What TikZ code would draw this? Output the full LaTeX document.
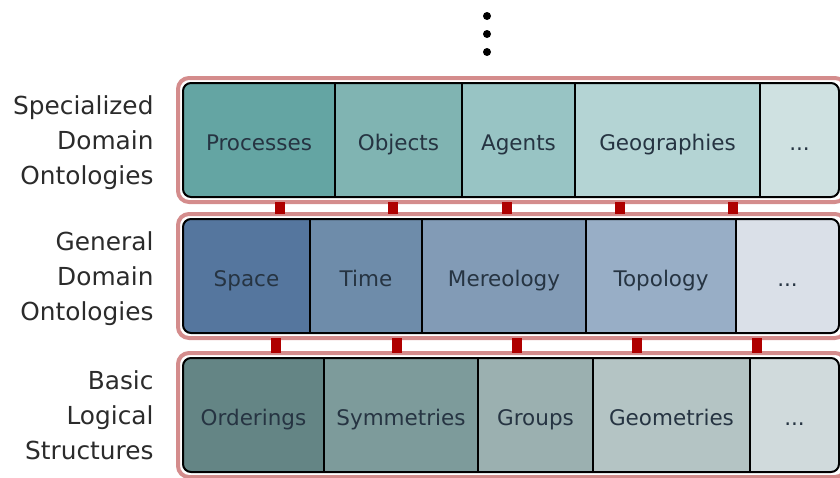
\documentclass[tikz,border=0pt]{standalone}
\usepackage{fontspec}
\setmainfont{DejaVu Sans}
\usepackage{tikz}
\usetikzlibrary{positioning}

\definecolor{pinkframe}{RGB}{212,140,140}
\definecolor{linkred}{RGB}{175,0,0}
\definecolor{celltext}{RGB}{38,52,66}
\definecolor{labeltext}{RGB}{43,43,43}
% specialized layer
\definecolor{proccol}{RGB}{100,165,163}
\definecolor{objcol}{RGB}{128,180,178}
\definecolor{agentcol}{RGB}{152,196,196}
\definecolor{geocol}{RGB}{180,212,212}
\definecolor{moreacol}{RGB}{207,225,225}
% general layer
\definecolor{spacecol}{RGB}{85,118,158}
\definecolor{timecol}{RGB}{110,140,170}
\definecolor{mereocol}{RGB}{130,155,182}
\definecolor{topocol}{RGB}{152,174,198}
\definecolor{morebcol}{RGB}{218,224,232}
% basic layer
\definecolor{ordcol}{RGB}{100,133,133}
\definecolor{symcol}{RGB}{125,155,155}
\definecolor{grpcol}{RGB}{155,176,176}
\definecolor{geomcol}{RGB}{180,196,196}
\definecolor{moreccol}{RGB}{208,218,220}

\begin{document}
\begin{tikzpicture}[x=1pt,y=-1pt,
  layerframe/.style={draw=pinkframe, line width=4pt, rounded corners=11pt, minimum width=668pt, minimum height=124pt, inner sep=0pt, outer sep=0pt},
  layerbox/.style={draw=black, line width=2pt, rounded corners=8pt, minimum width=656pt, minimum height=114pt, inner sep=0pt, outer sep=0pt},
  cell/.style={draw=black, line width=1.5pt, minimum height=114pt, inner sep=0pt, outer sep=0pt, text height=24pt, text depth=4pt, text=celltext, font=\fontsize{21.5}{24}\selectfont},
  layername/.style={align=right, text=labeltext, font=\fontsize{24.8}{35}\selectfont},
  linkbar/.style={draw=linkred, line width=10pt}]
\clip (0,0) rectangle (840,477);

% more layers above
\foreach \y in {16,34,52} \fill (487,\y) circle (4);

% Specialized Domain Ontologies
\node[layerframe] (specframe) at (512,140) {};
\begin{scope}
\clip[rounded corners=8pt] (183,83) rectangle (839,197);
\node[cell, fill=proccol, minimum width=152pt] (proc) at (259,140) {Processes};
\node[cell, fill=objcol, minimum width=127pt] (obj) at (398.5,140) {Objects};
\node[cell, fill=agentcol, minimum width=113pt] (agent) at (518.5,140) {Agents};
\node[cell, fill=geocol, minimum width=185pt] (geo) at (667.5,140) {Geographies};
\node[cell, fill=moreacol, minimum width=79pt] (morea) at (799.5,140) {...};
\end{scope}
\node[layerbox] (specbox) at (511,140) {};
\node[layername, left=26pt of specbox, yshift=-3pt] (speclabel) {Specialized\\Domain\\Ontologies};

% General Domain Ontologies
\node[layerframe] (genframe) at (512,276) {};
\begin{scope}
\clip[rounded corners=8pt] (183,219) rectangle (839,333);
\node[cell, fill=spacecol, minimum width=127pt] (space) at (246.5,276) {Space};
\node[cell, fill=timecol, minimum width=112pt] (time) at (366,276) {Time};
\node[cell, fill=mereocol, minimum width=164pt] (mereo) at (504,276) {Mereology};
\node[cell, fill=topocol, minimum width=150pt] (topo) at (661,276) {Topology};
\node[cell, fill=morebcol, minimum width=103pt] (moreb) at (787.5,276) {...};
\end{scope}
\node[layerbox] (genbox) at (511,276) {};
\node[layername, left=26pt of genbox, yshift=-3pt] (genlabel) {General\\Domain\\Ontologies};

% Basic Logical Structures
\node[layerframe] (basicframe) at (512,415) {};
\begin{scope}
\clip[rounded corners=8pt] (183,358) rectangle (839,472);
\node[cell, fill=ordcol, minimum width=141pt] (ord) at (253.5,415) {Orderings};
\node[cell, fill=symcol, minimum width=154pt] (sym) at (401,415) {Symmetries};
\node[cell, fill=grpcol, minimum width=115pt] (grp) at (535.5,415) {Groups};
\node[cell, fill=geomcol, minimum width=157pt] (geom) at (671.5,415) {Geometries};
\node[cell, fill=moreccol, minimum width=89pt] (morec) at (794.5,415) {...};
\end{scope}
\node[layerbox] (basicbox) at (511,415) {};
\node[layername, left=26pt of basicbox] (basiclabel) {Basic\\Logical\\Structures};

% links between the layers
\foreach \x in {280,393,507,620,733}
  \draw[linkbar] (specframe.south -| \x,0) -- (genframe.north -| \x,0);
\foreach \x in {276,397,517,637,757}
  \draw[linkbar] (genframe.south -| \x,0) -- (basicframe.north -| \x,0);
\end{tikzpicture}
\end{document}
